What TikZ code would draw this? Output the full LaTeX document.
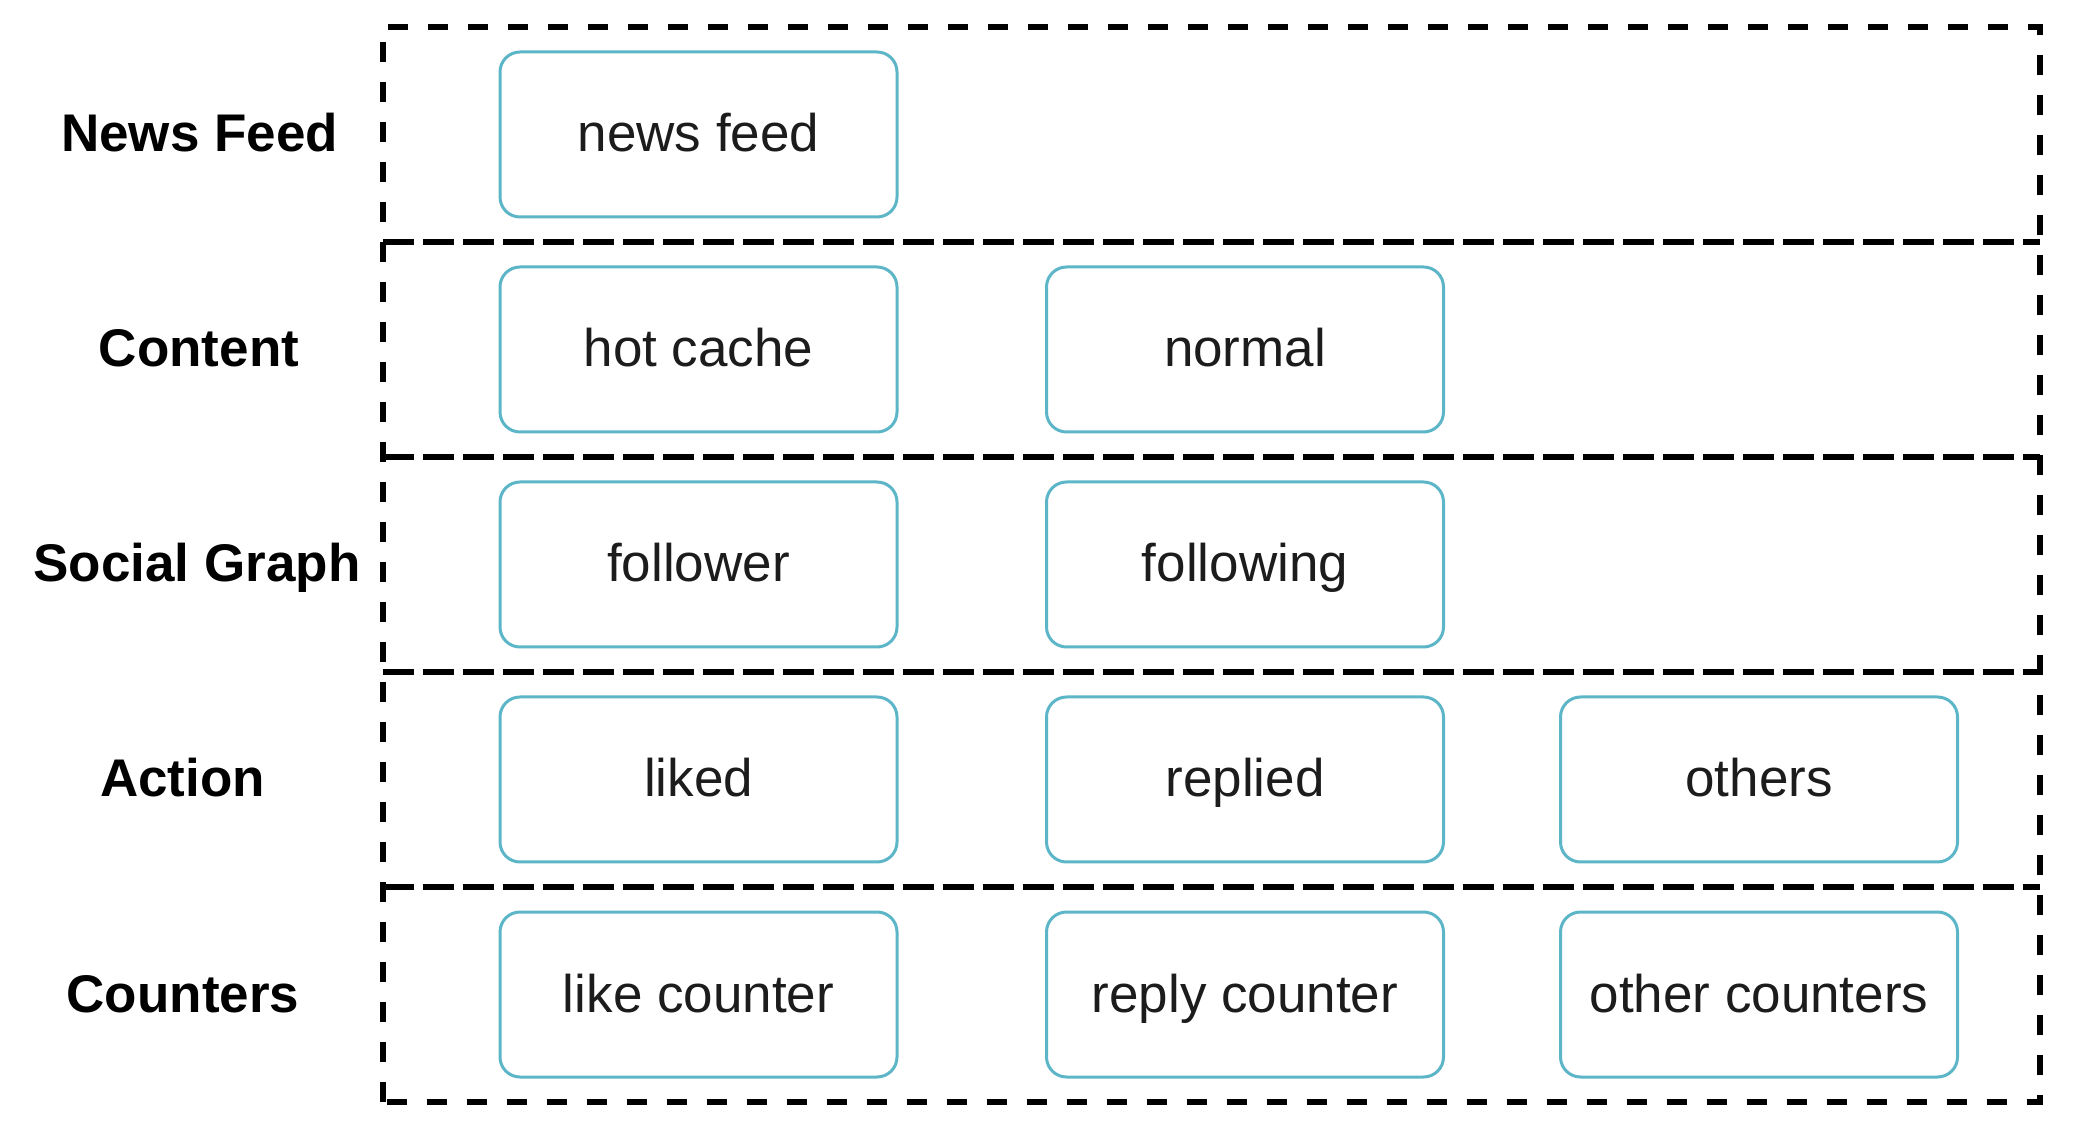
\documentclass[tikz,border=0pt]{standalone}
\usepackage{fontspec}
\setmainfont{Liberation Sans}
\definecolor{boxteal}{RGB}{92,182,200}
\definecolor{textgray}{RGB}{28,28,28}
\tikzset{
  frameline/.style={line width=6pt, dash pattern=on 20pt off 20pt},
  sepline/.style={line width=6pt, dash pattern=on 31pt off 9pt},
  itembox/.style={draw=boxteal, line width=3pt, rounded corners=20pt,
    minimum width=397pt, minimum height=165pt, inner sep=0pt,
    text height=35pt, text depth=0pt, text=textgray,
    font=\fontsize{53}{60}\selectfont, fill=white},
  rowlabel/.style={inner sep=0pt, text height=35pt, text depth=0pt,
    font=\fontsize{53}{60}\selectfont\bfseries}
}
\begin{document}
\begin{tikzpicture}[x=1pt,y=1pt]
\useasboundingbox[fill=white] (0,0) rectangle (2084,1130);
% frame
\draw[frameline] (383,28) rectangle (2040,1103);
\foreach \yy/\nm in {888/s1,673/s2,458/s3,243/s4}{
  \coordinate (\nm l) at (383,\yy);
  \coordinate (\nm r) at (2040,\yy);
  \draw[sepline] (\nm l) -- (\nm r);
}
% row labels
\node[rowlabel] (lnews) at (199.5,995.5) {News Feed};
\node[rowlabel] (lcontent) at (199,780.5) {Content};
\node[rowlabel] (lsocial) at (197,565.5) {Social Graph};
\node[rowlabel] (laction) at (182.5,350.5) {Action};
\node[rowlabel] (lcounters) at (183,135.5) {Counters};
% boxes
\node[itembox] (newsfeed) at (698.5,995.5) {news feed};
\node[itembox] (hotcache) at (698.5,780.5) {hot cache};
\node[itembox] (normal) at (1245,780.5) {normal};
\node[itembox] (follower) at (698.5,565.5) {follower};
\node[itembox] (following) at (1245,565.5) {following};
\node[itembox] (liked) at (698.5,350.5) {liked};
\node[itembox] (replied) at (1245,350.5) {replied};
\node[itembox] (others) at (1759,350.5) {others};
\node[itembox] (likecounter) at (698.5,135.5) {like counter};
\node[itembox] (replycounter) at (1245,135.5) {reply counter};
\node[itembox] (othercounters) at (1759,135.5) {other counters};
\end{tikzpicture}
\end{document}
